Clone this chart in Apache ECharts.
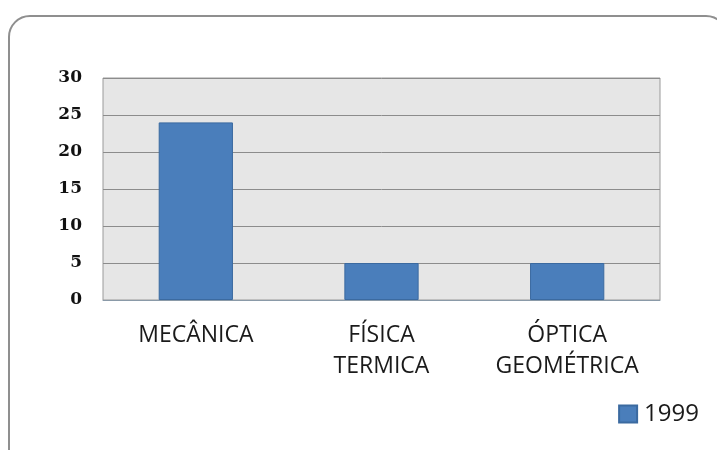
<!DOCTYPE html>
<html>
<head>
<meta charset="utf-8">
<style>
  html, body { margin: 0; padding: 0; background: #ffffff; }
  #frame {
    position: absolute; left: 8px; top: 15px; width: 720px; height: 460px;
    border: 2px solid #8f8f8f; border-radius: 22px; box-sizing: border-box;
  }
  #chart { position: absolute; left: 0; top: 0; width: 717px; height: 450px; }
</style>
<script src="https://cdn.jsdelivr.net/npm/echarts@6/dist/echarts.min.js"></script>
</head>
<body>
<div id="frame"></div>
<div id="chart"></div>
<script>
const categories = ['MECÂNICA', 'FÍSICA\nTERMICA', 'ÓPTICA\nGEOMÉTRICA'];
const values1999 = [24, 5, 5];
const yTicks = [0, 5, 10, 15, 20, 25, 30];

const chart = echarts.init(document.getElementById('chart'), null, { renderer: 'canvas' });
chart.setOption({
  animation: false,
  grid: {
    left: 103, right: 57, top: 78, bottom: 150,
    show: true, backgroundColor: '#e6e6e6', borderColor: '#9a9a9a', borderWidth: 1
  },
  legend: {
    right: 13, top: 397,
    itemWidth: 18, itemHeight: 17, itemGap: 4,
    icon: 'rect',
    textStyle: { fontFamily: 'Open Sans, Liberation Sans', fontSize: 24, color: '#1a1a1a', padding: [0, 0, 0, 2] },
    data: ['1999']
  },
  xAxis: {
    type: 'category',
    data: categories,
    axisLine: { show: true, lineStyle: { color: '#8a9aa8', width: 1 } },
    axisTick: { show: false },
    axisLabel: {
      margin: 20, interval: 0,
      fontFamily: 'Open Sans, Liberation Sans', fontSize: 23, color: '#1a1a1a',
      lineHeight: 31
    }
  },
  yAxis: {
    type: 'value', min: yTicks[0], max: yTicks[yTicks.length - 1], interval: 5,
    axisLine: { show: false },
    axisTick: { show: false },
    splitLine: { lineStyle: { color: '#8c8c8c', width: 1 } },
    axisLabel: {
      margin: 21,
      fontFamily: 'DejaVu Serif', fontWeight: 'bold', fontSize: 17, color: '#111'
    }
  },
  series: [{
    name: '1999',
    type: 'bar',
    data: values1999,
    barWidth: '40%',
    itemStyle: { color: '#4a7ebb', borderColor: '#3b6aa0', borderWidth: 1 }
  }]
});
</script>
</body>
</html>
